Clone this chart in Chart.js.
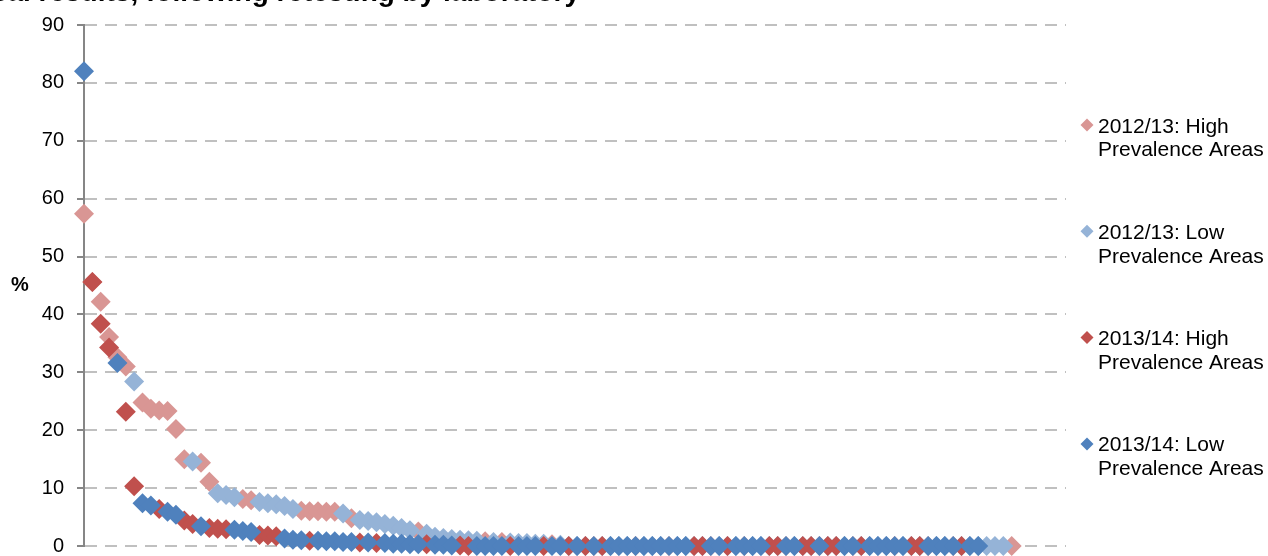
<!DOCTYPE html>
<html>
<head>
<meta charset="utf-8">
<title>Equivocal results by laboratory</title>
<script src="https://cdn.jsdelivr.net/npm/chart.js@4.4.1/dist/chart.umd.min.js"></script>
<style>
  html, body { margin: 0; padding: 0; background: #fff; }
</style>
</head>
<body>
<canvas id="chartLabs" width="1268" height="556"></canvas>
<script>
// Labs ranked by value for each year (position in the array = rank)
const values1213 = [
  57.4, 45.6, 42.2, 36.1, 32.6, 31.0, 28.4, 24.8, 23.7, 23.4,
  23.3, 20.2, 15.0, 14.6, 14.4, 11.1, 9.1, 8.8, 8.4, 8.1,
  7.9, 7.6, 7.4, 7.2, 6.9, 6.4, 6.1, 6.0, 6.0, 5.9,
  5.9, 5.6, 4.8, 4.5, 4.3, 4.1, 3.8, 3.5, 3.1, 2.7,
  2.5, 2.1, 1.6, 1.4, 1.2, 1.1, 1.0, 0.9, 0.8, 0.7,
  0.7, 0.6, 0.5, 0.5, 0.4, 0.4, 0.3, 0.2, 0, 0,
  0, 0, 0, 0, 0, 0, 0, 0, 0, 0,
  0, 0, 0, 0, 0, 0, 0, 0, 0, 0,
  0, 0, 0, 0, 0, 0, 0, 0, 0, 0,
  0, 0, 0, 0, 0, 0, 0, 0, 0, 0,
  0, 0, 0, 0, 0, 0, 0, 0, 0, 0,
  0, 0
];
const values1314 = [
  82, 45.6, 38.4, 34.3, 31.6, 23.2, 10.3, 7.4, 7.0, 6.4,
  5.9, 5.4, 4.4, 3.8, 3.4, 3.1, 3.0, 2.9, 2.8, 2.6,
  2.4, 1.9, 1.8, 1.7, 1.3, 1.1, 1.0, 0.9, 0.9, 0.8,
  0.8, 0.7, 0.7, 0.6, 0.6, 0.5, 0.5, 0.4, 0.4, 0.3,
  0.3, 0.3, 0.2, 0.2, 0.1, 0.1, 0, 0, 0, 0,
  0, 0, 0, 0, 0, 0, 0, 0, 0, 0,
  0, 0, 0, 0, 0, 0, 0, 0, 0, 0,
  0, 0, 0, 0, 0, 0, 0, 0, 0, 0,
  0, 0, 0, 0, 0, 0, 0, 0, 0, 0,
  0, 0, 0, 0, 0, 0, 0, 0, 0, 0,
  0, 0, 0, 0, 0, 0, 0, 0
];

// Ranks that belong to high prevalence areas (the rest are low prevalence)
const high1213 = [0, 1, 2, 3, 4, 5, 7, 8, 9, 10, 11, 12, 14, 15, 19, 20, 26, 27, 28, 29, 30, 32, 40, 48, 50, 56,
  61, 66, 70, 75, 79, 84, 88, 92, 97, 101, 104, 111];
const high1314 = [1, 2, 3, 5, 6, 9, 12, 13, 15, 16, 17, 21, 22, 23, 27, 33, 35, 41, 45, 46, 51, 55, 58, 60, 62,
  73, 74, 77, 82, 83, 86, 87, 89, 90, 93, 99, 100, 105];

const legendLines = [
  ['2012/13: High', 'Prevalence Areas'],
  ['2012/13: Low', 'Prevalence Areas'],
  ['2013/14: High', 'Prevalence Areas'],
  ['2013/14: Low', 'Prevalence Areas']
];
const seriesColors = ['#D99694', '#95B3D7', '#C0504D', '#4F81BD'];
const yTicks = [0, 10, 20, 30, 40, 50, 60, 70, 80, 90];
const yTitle = '%';
const chartTitle = 'Proportion of equivocal results, following retesting by laboratory';

// Split one year into high / low points, x = rank
function pointsFor(values, highRanks, wantHigh) {
  return values
    .map((v, i) => ({ x: i, y: v }))
    .filter((p) => highRanks.includes(p.x) === wantHigh);
}

const fontName = '"Liberation Sans", Arial, sans-serif';

// Title (cut at the top), % label and the legend on the right
const extrasPlugin = {
  id: 'extras',
  afterDraw(chart) {
    const { ctx, chartArea } = chart;
    ctx.save();
    ctx.fillStyle = '#000';
    ctx.font = 'bold 28px ' + fontName;
    ctx.textAlign = 'right';
    ctx.textBaseline = 'alphabetic';
    ctx.fillText(chartTitle, 580, 1);

    ctx.font = 'bold 20px ' + fontName;
    ctx.textAlign = 'center';
    ctx.textBaseline = 'middle';
    ctx.fillText(yTitle, 20, (chartArea.top + chartArea.bottom) / 2);

    ctx.font = '21px ' + fontName;
    ctx.textAlign = 'left';
    ctx.textBaseline = 'alphabetic';
    legendLines.forEach((lines, i) => {
      const y = 125 + i * 106.3;
      const x = 1087;
      const r = 6.5;
      ctx.fillStyle = seriesColors[i];
      ctx.beginPath();
      ctx.moveTo(x - r, y);
      ctx.lineTo(x, y - r);
      ctx.lineTo(x + r, y);
      ctx.lineTo(x, y + r);
      ctx.closePath();
      ctx.fill();
      ctx.fillStyle = '#000';
      ctx.fillText(lines[0], 1098, y + 7.5);
      ctx.fillText(lines[1], 1098, y + 31.2);
    });
    ctx.restore();
  }
};

const datasets = [
  { data: pointsFor(values1213, high1213, true), order: 4 },
  { data: pointsFor(values1213, high1213, false), order: 3 },
  { data: pointsFor(values1314, high1314, true), order: 2 },
  { data: pointsFor(values1314, high1314, false), order: 1 }
].map((ds, i) => ({
  ...ds,
  label: legendLines[i].join(' '),
  backgroundColor: seriesColors[i],
  borderColor: seriesColors[i],
  borderWidth: 0,
  pointStyle: 'rectRot',
  pointRadius: 10,
  clip: false
}));

new Chart(document.getElementById('chartLabs'), {
  type: 'scatter',
  data: { datasets },
  options: {
    responsive: false,
    animation: false,
    events: [],
    layout: { padding: { top: 25, bottom: 8, left: 0, right: 202 } },
    plugins: {
      legend: { display: false },
      tooltip: { enabled: false }
    },
    scales: {
      x: {
        type: 'linear',
        min: 0,
        max: 117.5,
        display: false
      },
      y: {
        min: 0,
        max: 90,
        afterFit(scale) {
          scale.width = 84;
          scale.paddingTop = 0;
          scale.paddingBottom = 0;
        },
        afterBuildTicks(scale) {
          scale.ticks = yTicks.map((v) => ({ value: v }));
        },
        ticks: {
          color: '#000',
          padding: 13,
          font: { family: fontName, size: 20 }
        },
        grid: {
          color: '#c0c0c0',
          lineWidth: 2,
          tickLength: 7,
          tickColor: '#868686',
          tickWidth: 2,
          tickBorderDash: []
        },
        border: {
          display: true,
          color: '#868686',
          width: 2,
          dash: [12, 8]
        }
      }
    }
  },
  plugins: [extrasPlugin]
});
</script>
</body>
</html>
